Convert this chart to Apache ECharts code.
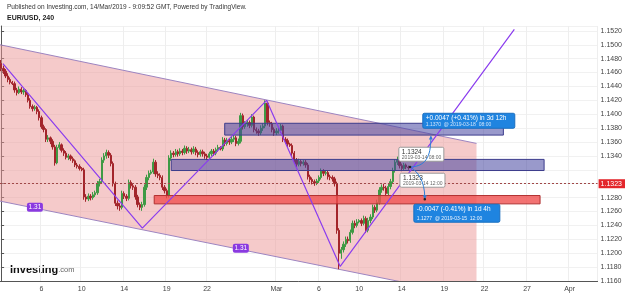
<!DOCTYPE html>
<html>
<head>
<meta charset="utf-8">
<script src="https://cdn.jsdelivr.net/npm/echarts/dist/echarts.min.js"></script>
<style>
html, body { margin: 0; padding: 0; background: #fff; }
#chart { width: 625px; height: 293px; }
</style>
</head>
<body>
<div id="chart"></div>
<script>
// 4h bars, EUR/USD, Feb 1 - Mar 14 2019 ([open, close, low, high])
var candles = [
[1.1473,1.1466,1.1462,1.1478],[1.1466,1.1462,1.1458,1.1470],[1.1462,1.1455,1.1452,1.1465],[1.1455,1.1450,1.1446,1.1459],
[1.1450,1.1446,1.1443,1.1453],[1.1446,1.1444,1.1442,1.1448],[1.1444,1.1435,1.1431,1.1447],[1.1435,1.1431,1.1427,1.1438],
[1.1431,1.1436,1.1429,1.1440],[1.1436,1.1432,1.1429,1.1439],[1.1432,1.1434,1.1428,1.1437],[1.1434,1.1428,1.1425,1.1436],
[1.1428,1.1420,1.1417,1.1431],[1.1420,1.1411,1.1408,1.1423],[1.1411,1.1408,1.1404,1.1414],[1.1408,1.1410,1.1405,1.1413],
[1.1410,1.1404,1.1400,1.1412],[1.1404,1.1395,1.1391,1.1407],[1.1395,1.1382,1.1379,1.1398],[1.1382,1.1378,1.1374,1.1385],
[1.1378,1.1364,1.1360,1.1380],[1.1364,1.1366,1.1360,1.1370],[1.1366,1.1361,1.1357,1.1368],[1.1361,1.1353,1.1349,1.1364],
[1.1353,1.1330,1.1326,1.1356],[1.1330,1.1352,1.1328,1.1356],[1.1352,1.1356,1.1349,1.1360],[1.1356,1.1348,1.1345,1.1358],
[1.1348,1.1344,1.1340,1.1351],[1.1344,1.1338,1.1335,1.1347],[1.1338,1.1340,1.1334,1.1343],[1.1340,1.1336,1.1333,1.1342],
[1.1336,1.1333,1.1330,1.1339],[1.1333,1.1327,1.1324,1.1335],[1.1327,1.1325,1.1322,1.1330],[1.1325,1.1322,1.1319,1.1328],
[1.1322,1.1320,1.1318,1.1324],[1.1320,1.1281,1.1277,1.1323],[1.1281,1.1278,1.1274,1.1285],[1.1278,1.1282,1.1275,1.1286],
[1.1282,1.1280,1.1276,1.1285],[1.1280,1.1284,1.1277,1.1288],[1.1284,1.1287,1.1281,1.1290],[1.1287,1.1300,1.1284,1.1304],
[1.1300,1.1303,1.1296,1.1307],[1.1303,1.1334,1.1300,1.1338],[1.1334,1.1340,1.1330,1.1344],[1.1340,1.1345,1.1336,1.1349],
[1.1345,1.1341,1.1337,1.1348],[1.1341,1.1329,1.1325,1.1344],[1.1329,1.1300,1.1296,1.1332],[1.1300,1.1272,1.1268,1.1303],
[1.1272,1.1268,1.1263,1.1276],[1.1268,1.1266,1.1261,1.1272],[1.1266,1.1286,1.1263,1.1290],[1.1286,1.1282,1.1278,1.1289],
[1.1282,1.1279,1.1275,1.1285],[1.1279,1.1302,1.1276,1.1306],[1.1302,1.1297,1.1293,1.1305],[1.1297,1.1295,1.1291,1.1300],
[1.1295,1.1281,1.1277,1.1298],[1.1281,1.1270,1.1266,1.1284],[1.1270,1.1266,1.1262,1.1273],[1.1266,1.1270,1.1261,1.1274],
[1.1270,1.1295,1.1267,1.1299],[1.1295,1.1309,1.1291,1.1313],[1.1309,1.1315,1.1305,1.1319],[1.1315,1.1317,1.1313,1.1320],
[1.1317,1.1331,1.1314,1.1336],[1.1331,1.1314,1.1310,1.1334],[1.1314,1.1312,1.1308,1.1318],[1.1312,1.1309,1.1305,1.1315],
[1.1309,1.1295,1.1291,1.1312],[1.1295,1.1290,1.1286,1.1298],[1.1290,1.1283,1.1279,1.1293],[1.1283,1.1337,1.1280,1.1341],
[1.1337,1.1344,1.1333,1.1348],[1.1344,1.1342,1.1338,1.1347],[1.1342,1.1346,1.1339,1.1350],[1.1346,1.1343,1.1339,1.1349],
[1.1343,1.1347,1.1340,1.1351],[1.1347,1.1345,1.1341,1.1350],[1.1345,1.1351,1.1342,1.1355],[1.1351,1.1347,1.1343,1.1354],
[1.1347,1.1349,1.1344,1.1353],[1.1349,1.1346,1.1342,1.1352],[1.1346,1.1350,1.1343,1.1354],[1.1350,1.1345,1.1341,1.1353],
[1.1345,1.1342,1.1338,1.1348],[1.1342,1.1346,1.1339,1.1349],[1.1346,1.1343,1.1339,1.1349],[1.1343,1.1340,1.1336,1.1346],
[1.1340,1.1338,1.1334,1.1343],[1.1338,1.1343,1.1335,1.1346],[1.1343,1.1347,1.1340,1.1350],[1.1347,1.1344,1.1340,1.1350],
[1.1344,1.1349,1.1341,1.1352],[1.1349,1.1352,1.1346,1.1356],[1.1352,1.1350,1.1348,1.1354],[1.1350,1.1363,1.1347,1.1367],
[1.1363,1.1358,1.1354,1.1366],[1.1358,1.1362,1.1355,1.1366],[1.1362,1.1360,1.1356,1.1365],[1.1360,1.1364,1.1357,1.1368],
[1.1364,1.1366,1.1360,1.1370],[1.1366,1.1358,1.1354,1.1369],[1.1358,1.1361,1.1355,1.1365],[1.1361,1.1398,1.1358,1.1402],
[1.1398,1.1382,1.1378,1.1401],[1.1382,1.1386,1.1379,1.1390],[1.1386,1.1388,1.1382,1.1392],[1.1388,1.1384,1.1380,1.1391],
[1.1384,1.1396,1.1381,1.1400],[1.1396,1.1378,1.1374,1.1398],[1.1378,1.1376,1.1372,1.1381],[1.1376,1.1373,1.1369,1.1379],
[1.1373,1.1380,1.1370,1.1384],[1.1380,1.1383,1.1376,1.1387],[1.1383,1.1416,1.1380,1.1420],[1.1416,1.1388,1.1384,1.1418],
[1.1388,1.1386,1.1382,1.1391],[1.1386,1.1378,1.1374,1.1389],[1.1378,1.1373,1.1369,1.1381],[1.1373,1.1376,1.1370,1.1380],
[1.1376,1.1377,1.1372,1.1381],[1.1377,1.1383,1.1373,1.1386],[1.1383,1.1364,1.1360,1.1385],[1.1364,1.1362,1.1358,1.1367],
[1.1362,1.1357,1.1353,1.1365],[1.1357,1.1355,1.1353,1.1359],[1.1355,1.1344,1.1340,1.1358],[1.1344,1.1334,1.1330,1.1347],
[1.1334,1.1328,1.1324,1.1337],[1.1328,1.1332,1.1325,1.1336],[1.1332,1.1329,1.1325,1.1335],[1.1329,1.1331,1.1326,1.1334],
[1.1331,1.1327,1.1323,1.1334],[1.1327,1.1310,1.1306,1.1330],[1.1310,1.1306,1.1302,1.1313],[1.1306,1.1303,1.1299,1.1309],
[1.1303,1.1301,1.1297,1.1306],[1.1301,1.1304,1.1298,1.1307],[1.1304,1.1309,1.1301,1.1312],[1.1309,1.1318,1.1306,1.1322],
[1.1318,1.1315,1.1311,1.1321],[1.1315,1.1316,1.1312,1.1319],[1.1316,1.1310,1.1306,1.1319],[1.1310,1.1309,1.1305,1.1313],
[1.1309,1.1307,1.1303,1.1312],[1.1307,1.1300,1.1296,1.1310],[1.1300,1.1233,1.1228,1.1303],[1.1233,1.1200,1.1177,1.1236],
[1.1200,1.1205,1.1192,1.1209],[1.1205,1.1213,1.1201,1.1217],[1.1213,1.1220,1.1209,1.1224],[1.1220,1.1218,1.1214,1.1224],
[1.1218,1.1230,1.1215,1.1234],[1.1230,1.1243,1.1227,1.1247],[1.1243,1.1240,1.1236,1.1247],[1.1240,1.1245,1.1237,1.1249],
[1.1245,1.1247,1.1243,1.1249],[1.1247,1.1243,1.1239,1.1250],[1.1243,1.1250,1.1240,1.1254],[1.1250,1.1233,1.1229,1.1253],
[1.1233,1.1247,1.1230,1.1251],[1.1247,1.1252,1.1243,1.1256],[1.1252,1.1266,1.1249,1.1270],[1.1266,1.1262,1.1258,1.1269],
[1.1262,1.1273,1.1259,1.1277],[1.1273,1.1291,1.1270,1.1295],[1.1291,1.1295,1.1287,1.1299],[1.1295,1.1294,1.1290,1.1300],
[1.1294,1.1286,1.1282,1.1297],[1.1286,1.1296,1.1283,1.1300],[1.1296,1.1303,1.1292,1.1307],[1.1303,1.1319,1.1300,1.1323],
[1.1319,1.1331,1.1316,1.1335],[1.1331,1.1334,1.1327,1.1339],[1.1334,1.1326,1.1322,1.1337],[1.1326,1.1322,1.1318,1.1329],
[1.1322,1.1327,1.1319,1.1330],[1.1327,1.1324,1.1321,1.1329],[1.1324,1.1323,1.1320,1.1326]
];
var lastPrice = 1.1323;

// x tick labels (first bar of each day)
var tickDays = ['2019-02-06','2019-02-10','2019-02-14','2019-02-19','2019-02-22','2019-03-01',
                '2019-03-06','2019-03-10','2019-03-14','2019-03-19','2019-03-22','2019-03-27','2019-04-01'];
var tickTexts = ['6','10','14','19','22','Mar','6','10','14','19','22','27','Apr'];

// drawings, x in bar index, y in price
var channelTop = [[-0.5, 1.1500], [212.4, 1.1358]];
var channelBottom = [[-0.5, 1.1275], [212.4, 1.1137]];
var zoneFrom = [99.9, 76.0, 68.4];
var zoneTo = [224.4, 242.6, 240.8];
var zoneLow = [1.1370, 1.1319, 1.1271];
var zoneHigh = [1.1387, 1.1335, 1.1283];
var zoneKind = ['blue', 'blue', 'red'];
var patternPts = [[0.8, 1.1473], [63.1, 1.1236], [118.6, 1.1420], [151.5, 1.1181], [229.3, 1.1522]];
var ratioPts = [[15.1, 1.1266], [107.1, 1.1207]];
var ratioText = ['1.31', '1.31'];

// bar timestamps: Mon-Fri every 4h plus the Sunday evening bar
var categories = [];
var t = Date.UTC(2019, 1, 1, 4);
function pad(n) { return n < 10 ? '0' + n : '' + n; }
while (categories.length < 267) {
    var d = new Date(t), wd = d.getUTCDay(), h = d.getUTCHours();
    if ((wd >= 1 && wd <= 5) || (wd === 0 && h === 20)) {
        categories.push(d.getUTCFullYear() + '-' + pad(d.getUTCMonth() + 1) + '-' + pad(d.getUTCDate()) + ' ' + pad(h) + ':00');
    }
    t += 4 * 3600 * 1000;
}
var tickAt = {};
tickDays.forEach(function (day, k) {
    for (var i = 0; i < categories.length; i++) {
        if (categories[i].indexOf(day) === 0) { tickAt[i] = tickTexts[k]; break; }
    }
});

var chart = echarts.init(document.getElementById('chart'));

function renderChannel(params, api) {
    var a = api.coord(channelTop[0]), b = api.coord(channelTop[1]);
    var c = api.coord(channelBottom[1]), d = api.coord(channelBottom[0]);
    return {
        type: 'group',
        children: [
            {type: 'polygon', shape: {points: [a, b, c, d]}, style: {fill: 'rgba(236,150,150,0.5)'}},
            {type: 'line', shape: {x1: a[0], y1: a[1], x2: b[0], y2: b[1]}, style: {stroke: '#9d84c0', lineWidth: 1}},
            {type: 'line', shape: {x1: d[0], y1: d[1], x2: c[0], y2: c[1]}, style: {stroke: '#9d84c0', lineWidth: 1}}
        ]
    };
}

function renderZone(params, api) {
    var i = params.dataIndex;
    var p0 = api.coord([api.value(0), api.value(3)]);
    var p1 = api.coord([api.value(1), api.value(2)]);
    var blue = zoneKind[i] === 'blue';
    return {
        type: 'rect',
        shape: {x: p0[0], y: p0[1], width: p1[0] - p0[0], height: p1[1] - p0[1]},
        style: {
            fill: blue ? 'rgba(70,70,160,0.55)' : 'rgba(240,80,80,0.8)',
            stroke: blue ? '#3c3c8c' : '#b03030',
            lineWidth: 1
        }
    };
}

function renderRatio(params, api) {
    var p = api.coord([api.value(0), api.value(1)]);
    return {
        type: 'group',
        children: [
            {type: 'rect', shape: {x: p[0] - 8, y: p[1] - 4.5, width: 16, height: 9, r: 2}, style: {fill: '#8a3ae0'}},
            {type: 'text', x: p[0], y: p[1], style: {text: ratioText[params.dataIndex], fill: '#fff', fontSize: 6.5,
                fontFamily: 'Liberation Sans', align: 'center', verticalAlign: 'middle'}}
        ]
    };
}

function box(p, w, h, fill, stroke, l1, l2, c1, c2) {
    return {
        type: 'group',
        children: [
            {type: 'rect', shape: {x: p[0], y: p[1], width: w, height: h, r: 1.5}, style: {fill: fill, stroke: stroke, lineWidth: 1}},
            {type: 'text', x: p[0] + 3, y: p[1] + 4.5, style: {text: l1, fill: c1, fontSize: 6.5, fontFamily: 'Liberation Sans', verticalAlign: 'middle'}},
            {type: 'text', x: p[0] + 3, y: p[1] + h - 4, style: {text: l2, fill: c2, fontSize: 5, fontFamily: 'Liberation Sans', verticalAlign: 'middle'}}
        ]
    };
}

function renderForecast(params, api) {
    var start = api.coord([182.7, 1.1324]);
    var upEnd = api.coord([192.0, 1.1368]);
    var upC1 = api.coord([191.0, 1.1325]);
    var upC2 = api.coord([192.0, 1.1345]);
    var dnEnd = api.coord([189.3, 1.1279]);
    var dnC1 = api.coord([186.0, 1.1318]);
    var dnC2 = api.coord([189.3, 1.1305]);
    var blue = '#2f7fd8';
    return {
        type: 'group',
        children: [
            box(api.coord([177.7, 1.13525]), 45, 14, '#fff', '#9a9a9a', '1.1324', '2019-03-14 08:00', '#333', '#666'),
            box(api.coord([178.2, 1.13151]), 45, 14, '#fff', '#9a9a9a', '1.1323', '2019-03-14 12:00', '#333', '#666'),
            {type: 'bezierCurve', shape: {x1: start[0], y1: start[1], cpx1: upC1[0], cpy1: upC1[1], cpx2: upC2[0], cpy2: upC2[1], x2: upEnd[0], y2: upEnd[1]},
                style: {stroke: blue, lineWidth: 1, fill: null}},
            {type: 'bezierCurve', shape: {x1: start[0], y1: start[1], cpx1: dnC1[0], cpy1: dnC1[1], cpx2: dnC2[0], cpy2: dnC2[1], x2: dnEnd[0], y2: dnEnd[1]},
                style: {stroke: blue, lineWidth: 1, fill: null}},
            {type: 'polygon', shape: {points: [[upEnd[0] - 2, upEnd[1] + 3], [upEnd[0] + 2, upEnd[1] + 3], [upEnd[0], upEnd[1] - 1]]}, style: {fill: blue}},
            {type: 'polygon', shape: {points: [[dnEnd[0] - 2, dnEnd[1] - 3], [dnEnd[0] + 2, dnEnd[1] - 3], [dnEnd[0], dnEnd[1] + 1]]}, style: {fill: blue}},
            {type: 'circle', shape: {cx: dnEnd[0], cy: dnEnd[1] + 1, r: 1.3}, style: {fill: '#222'}},
            {type: 'circle', shape: {cx: start[0], cy: start[1], r: 1.3}, style: {fill: '#222'}},
            box(api.coord([188.4, 1.14014]), 92, 15, '#1f84e0', '#1a6fc0', '+0.0047 (+0.41%) in 3d 12h', '1.1370  @ 2019-03-18  08:00', '#fff', '#cfe3fa'),
            box(api.coord([184.4, 1.12705]), 86, 18, '#1f84e0', '#1a6fc0', '-0.0047 (-0.41%) in 1d 4h', '1.1277  @ 2019-03-15  12:00', '#fff', '#eaf3fd')
        ]
    };
}

var option = {
    animation: false,
    backgroundColor: '#fff',
    textStyle: {fontFamily: 'Liberation Sans'},
    grid: {left: 0, right: 25, top: 26, bottom: 12},
    xAxis: [{
        type: 'category',
        data: categories,
        boundaryGap: true,
        axisLine: {lineStyle: {color: '#555'}},
        axisTick: {show: false},
        axisLabel: {
            fontSize: 7, color: '#444', margin: 5,
            interval: function (i) { return tickAt[i] !== undefined; },
            formatter: function (v, i) { return tickAt[i] || ''; }
        },
        splitLine: {show: true, interval: function (i) { return tickAt[i] !== undefined; }, lineStyle: {color: '#eeeeee'}}
    }, {
        type: 'value', min: -0.5, max: 266.5, show: false
    }],
    yAxis: {
        type: 'value', position: 'right', min: 1.116, max: 1.1527, interval: 0.002,
        axisLine: {show: true, lineStyle: {color: '#555'}},
        axisTick: {show: true, length: 3, lineStyle: {color: '#555'}},
        axisLabel: {
            fontSize: 7, color: '#444', margin: 3, showMaxLabel: false,
            formatter: function (v) { return Math.abs(v - 1.132) < 1e-7 ? '' : v.toFixed(4); }
        },
        splitLine: {lineStyle: {color: '#f1f1f1'}}
    },
    series: [{
        type: 'custom', xAxisIndex: 1, clip: true, z: 1,
        renderItem: renderChannel, data: [[0, 1.13]], silent: true
    }, {
        type: 'candlestick', xAxisIndex: 0, z: 3,
        data: candles, barWidth: 1.8,
        itemStyle: {color: '#3f9a45', color0: '#a3252b', borderColor: '#3f9a45', borderColor0: '#a3252b', borderWidth: 1},
        markLine: {
            silent: true, symbol: 'none',
            lineStyle: {color: '#a04848', type: [2, 2], width: 1},
            label: {position: 'end', distance: 1, formatter: lastPrice.toFixed(4), color: '#fff', backgroundColor: '#e3262b',
                fontSize: 7, padding: [1, 3, 1, 2]},
            data: [{yAxis: lastPrice}]
        }
    }, {
        type: 'custom', xAxisIndex: 1, clip: true, z: 4,
        renderItem: renderZone,
        data: zoneFrom.map(function (f, i) { return [f, zoneTo[i], zoneLow[i], zoneHigh[i]]; })
    }, {
        type: 'line', xAxisIndex: 1, z: 5, data: patternPts, symbol: 'none',
        lineStyle: {color: '#8b3dee', width: 1.2}
    }, {
        type: 'custom', xAxisIndex: 1, z: 6, renderItem: renderRatio, data: ratioPts
    }, {
        type: 'custom', xAxisIndex: 1, z: 7, renderItem: renderForecast, data: [[185, 1.133]]
    }],
    graphic: [
        {type: 'text', left: 7, top: 4, style: {text: 'Published on Investing.com, 14/Mar/2019 - 9:09:52 GMT, Powered by TradingView.',
            fill: '#333', fontSize: 6.5, fontFamily: 'Liberation Sans'}},
        {type: 'text', left: 7, top: 15, style: {text: 'EUR/USD, 240', fill: '#222', fontSize: 7, fontWeight: 'bold', fontFamily: 'Liberation Sans'}},
        {type: 'text', left: 10, top: 264, style: {
            text: '{a|Investing}{b|.com}',
            rich: {
                a: {fontSize: 11, fontWeight: 'bold', fill: '#111', fontFamily: 'Liberation Sans'},
                b: {fontSize: 7.5, fill: '#666', fontFamily: 'Liberation Sans'}
            }
        }}
    ]
};
chart.setOption(option);
</script>
</body>
</html>
